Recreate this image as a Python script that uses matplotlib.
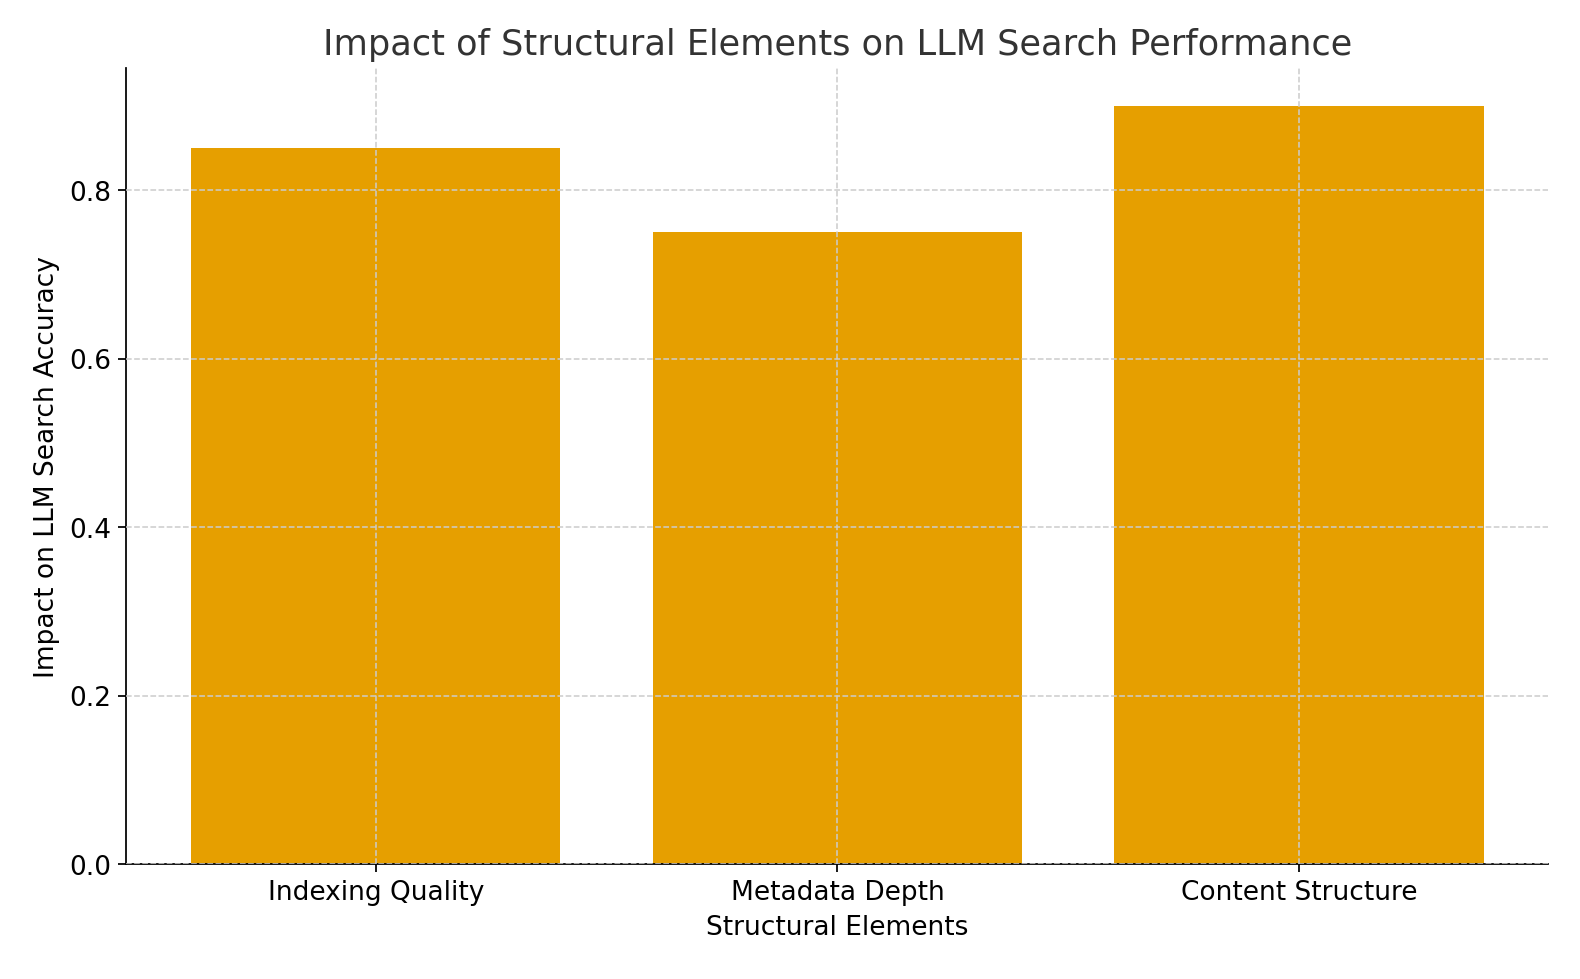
import matplotlib.pyplot as plt

categories = ["Indexing Quality", "Metadata Depth", "Content Structure"]
impact = [0.85, 0.75, 0.90]

fig, ax = plt.subplots(figsize=(10, 6.2), dpi=158)
ax.bar(categories, impact, color="#E69F00", width=0.8)
ax.set_title("Impact of Structural Elements on LLM Search Performance", fontsize=16, color="#333333")
ax.set_xlabel("Structural Elements", fontsize=12)
ax.set_ylabel("Impact on LLM Search Accuracy", fontsize=12)
ax.tick_params(labelsize=12)
ax.grid(True, linestyle="--", color="#cccccc", linewidth=0.7)
ax.set_axisbelow(False)
ax.spines["top"].set_visible(False)
ax.spines["right"].set_visible(False)
plt.subplots_adjust(left=0.08, right=0.98, top=0.93, bottom=0.117)
fig.savefig("out.png")
